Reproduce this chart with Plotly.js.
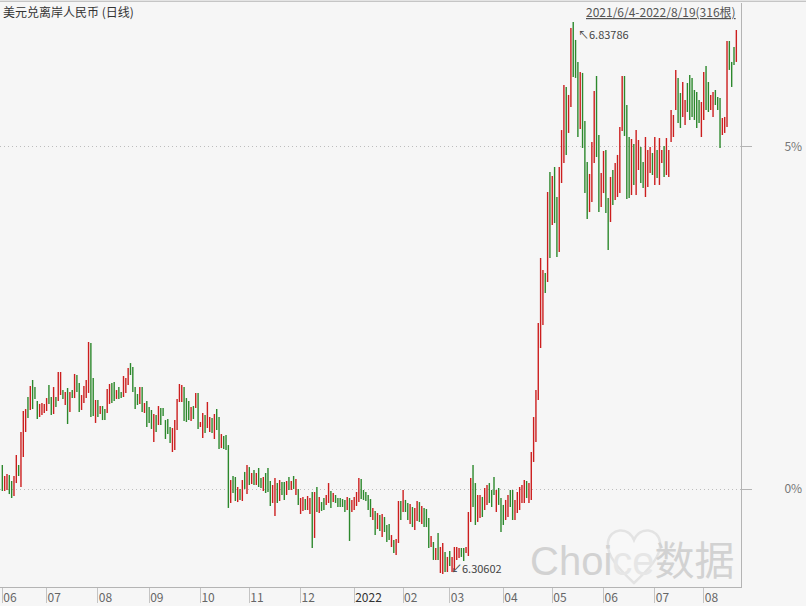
<!DOCTYPE html>
<html>
<head>
<meta charset="utf-8">
<script src="https://cdn.plot.ly/plotly-3.0.1.min.js"></script>
<style>
html,body{margin:0;padding:0;background:#f6f6f6;}
#chart{width:806px;height:606px;}
</style>
</head>
<body>
<div id="chart"></div>
<script>
// USD/CNH daily, 2021/6/4 - 2022/8/19 (316 bars)
const high = [
6.4111,6.4005,6.4024,6.4014,6.3957,6.4005,6.4207,6.4111,6.4429,6.4631,
6.4650,6.4766,6.4872,6.4930,6.4862,6.4727,6.4699,6.4708,6.4699,6.4756,
6.4882,6.4766,6.4862,6.4766,6.5007,6.5007,6.4833,6.4814,6.4853,6.4814,
6.4833,6.4988,6.4978,6.4901,6.4785,6.4872,6.4930,6.5296,6.5286,6.4949,
6.4737,6.4737,6.4679,6.4679,6.4650,6.4843,6.4891,6.4901,6.4911,6.4833,
6.4862,6.4814,6.4968,6.4949,6.5045,6.5093,6.5055,6.4862,6.4795,6.4862,
6.4862,6.4708,6.4727,6.4670,6.4641,6.4602,6.4592,6.4679,6.4660,6.4660,
6.4544,6.4554,6.4477,6.4467,6.4544,6.4747,6.4891,6.4882,6.4862,6.4756,
6.4727,6.4670,6.4679,6.4805,6.4805,6.4525,6.4612,6.4592,6.4718,6.4573,
6.4564,6.4602,6.4650,6.4573,6.4409,6.4390,6.4400,6.4303,6.3966,6.4005,
6.3995,6.3899,6.3880,6.3966,6.4044,6.4111,6.4091,6.4034,6.4063,6.4034,
6.4082,6.3986,6.3995,6.4034,6.4082,6.3957,6.3918,6.3986,6.3937,6.3966,
6.3947,6.3947,6.3957,6.3995,6.3957,6.4005,6.3976,6.3880,6.3793,6.3803,
6.3783,6.3812,6.3793,6.3851,6.3851,6.3899,6.3803,6.3754,6.3793,6.3822,
6.3937,6.3860,6.3841,6.3822,6.3793,6.3793,6.3783,6.3774,6.3803,6.3793,
6.3774,6.3803,6.3851,6.3986,6.3976,6.3870,6.3851,6.3822,6.3783,6.3697,
6.3668,6.3648,6.3629,6.3639,6.3610,6.3533,6.3542,6.3436,6.3388,6.3398,
6.3764,6.3764,6.3870,6.3774,6.3745,6.3735,6.3706,6.3697,6.3764,6.3754,
6.3716,6.3697,6.3687,6.3600,6.3427,6.3369,6.3311,6.3456,6.3321,6.3359,
6.3273,6.3225,6.3282,6.3225,6.3321,6.3321,6.3311,6.3311,6.3311,6.3321,
6.3658,6.3986,6.4111,6.3937,6.3822,6.3822,6.3803,6.3889,6.3918,6.3937,
6.3870,6.3995,6.3870,6.3889,6.3793,6.3726,6.3774,6.3822,6.3870,6.3870,
6.3774,6.3851,6.3899,6.3918,6.3966,6.3957,6.3937,6.4236,6.4573,6.4833,
6.5479,6.6105,6.5990,6.5961,6.6741,6.6934,6.6895,6.6982,6.6693,6.6982,
6.7338,6.7772,6.7753,6.7676,6.8321,6.83786,6.8206,6.7994,6.7897,6.7888,
6.7425,6.7030,6.6915,6.7223,6.7714,6.7859,6.7290,6.6924,6.7136,6.7146,
6.6683,6.6886,6.6953,6.7021,6.7098,6.7367,6.7859,6.7859,6.7579,6.7271,
6.7252,6.7204,6.7338,6.7242,6.7175,6.7030,6.7271,6.7146,6.7175,6.7117,
6.7271,6.7146,6.7261,6.7146,6.7184,6.7261,6.7146,6.7531,6.7483,6.7917,
6.7840,6.7695,6.7801,6.7628,6.7791,6.7868,6.7840,6.7724,6.7705,6.7628,
6.7608,6.7897,6.7955,6.7801,6.7676,6.7705,6.7724,6.7656,6.7647,6.7454,
6.7464,6.8196,6.8196,6.7994,6.8138,6.8302
];
const low = [
6.3860,6.3860,6.3870,6.3831,6.3793,6.3812,6.3937,6.4005,6.3899,6.4188,
6.4429,6.4564,6.4641,6.4650,6.4747,6.4554,6.4573,6.4592,6.4612,6.4631,
6.4699,6.4592,6.4602,6.4670,6.4727,6.4785,6.4747,6.4689,6.4506,6.4622,
6.4756,6.4756,6.4814,6.4622,6.4641,6.4708,6.4756,6.4805,6.4573,6.4583,
6.4516,6.4573,6.4602,6.4544,6.4544,6.4612,6.4699,6.4708,6.4727,6.4747,
6.4747,6.4756,6.4766,6.4805,6.4882,6.4978,6.4814,6.4650,6.4689,6.4699,
6.4622,6.4612,6.4477,6.4516,6.4458,6.4332,6.4429,6.4496,6.4496,6.4583,
6.4361,6.4409,6.4323,6.4236,6.4255,6.4448,6.4718,6.4718,6.4535,6.4525,
6.4544,6.4535,6.4554,6.4660,6.4458,6.4477,6.4371,6.4419,6.4467,6.4429,
6.4419,6.4361,6.4448,6.4265,6.4274,6.4265,6.4255,6.3697,6.3745,6.3841,
6.3764,6.3754,6.3774,6.3764,6.3880,6.3831,6.3918,6.3928,6.3918,6.3918,
6.3899,6.3889,6.3860,6.3841,6.3851,6.3716,6.3745,6.3619,6.3745,6.3764,
6.3822,6.3774,6.3822,6.3870,6.3870,6.3880,6.3822,6.3726,6.3639,6.3668,
6.3677,6.3677,6.3639,6.3311,6.3408,6.3658,6.3648,6.3668,6.3677,6.3726,
6.3745,6.3697,6.3754,6.3745,6.3706,6.3706,6.3706,6.3658,6.3677,6.3379,
6.3658,6.3677,6.3716,6.3754,6.3783,6.3774,6.3764,6.3677,6.3610,6.3581,
6.3436,6.3494,6.3475,6.3417,6.3465,6.3369,6.3388,6.3321,6.3263,6.3244,
6.3359,6.3581,6.3658,6.3658,6.3581,6.3542,6.3513,6.3485,6.3571,6.3562,
6.3542,6.3513,6.3513,6.3311,6.3321,6.3196,6.3196,6.3196,6.3070,6.30602,
6.3080,6.3080,6.3138,6.3080,6.3099,6.3196,6.3215,6.3225,6.3186,6.3263,
6.3234,6.3562,6.3706,6.3533,6.3562,6.3600,6.3610,6.3677,6.3726,6.3745,
6.3706,6.3822,6.3658,6.3726,6.3465,6.3533,6.3581,6.3610,6.3706,6.3581,
6.3581,6.3648,6.3677,6.3745,6.3745,6.3793,6.3745,6.3774,6.4140,6.4332,
6.4737,6.5238,6.5460,6.5768,6.5874,6.6105,6.6423,6.6442,6.6115,6.6163,
6.6828,6.7021,6.7098,6.7310,6.7560,6.7849,6.7840,6.7271,6.7348,6.7165,
6.6731,6.6481,6.6548,6.6645,6.7021,6.7078,6.6548,6.6597,6.6731,6.6539,
6.6182,6.6452,6.6616,6.6664,6.6693,6.6731,6.7329,6.7281,6.6674,6.6683,
6.6712,6.6809,6.6712,6.6953,6.6828,6.6780,6.6693,6.6789,6.6924,6.6905,
6.6809,6.6876,6.6809,6.7021,6.6886,6.6905,6.6886,6.7223,6.7271,6.7531,
6.7406,6.7358,6.7464,6.7387,6.7512,6.7435,6.7464,6.7435,6.7358,6.7406,
6.7271,6.7435,6.7531,6.7512,6.7531,6.7464,6.7579,6.7531,6.7165,6.7290,
6.7310,6.7367,6.7917,6.7753,6.7965,6.7994
];
// R = close above open (red), G = close below open (green)
const direction =
  "GRRGGRRGRR" + "RGRGGGRRRR" + "GGRGRRGRGR" + "GRGGRRRRGG" + "RGRGGRRGGR" +
  "GGRRRGGGGR" + "GRGGGRGRGG" + "GGGRRRRRGG" + "GRGRGRRGRR" + "GRGGRGGGRG" +
  "GRGRGRGRGR" + "GGRGGGRRGR" + "GGRGRGRGRR" + "GRRGRGRGGR" + "RGRGGGGGRG" +
  "RRRRGGGGGR" + "GRGRGGGRGR" + "RGRGGRGRRG" + "RGGGRGRGRR" + "GRGRRRRGGR" +
  "RRGGRRGRRG" + "GGRGGGRRGG" + "RRRRRGRRRR" + "RRRGRGRGGR" + "RRGRRGGGRG" +
  "GGRRRGGRRG" + "GRGRRRRGGG" + "RGRRGGRRRG" + "RGRRGRRRRR" + "GGRRGGGGGG" +
  "RRGGRRGGGR" + "RRGGGR";

const monthTickIndex = [0,19,41,63,85,106,128,151,172,192,215,236,258,280,301];
const monthTickText = ['06','07','08','09','10','11','12','<span style="color:#333">2022</span>','02','03','04','05','06','07','08'];
const yTickVals = [6.38796, 6.71747];
const yTickText = ['0%','5%'];
const maxIndex = 245, maxPrice = 6.83786;
const minIndex = 189, minPrice = 6.30602;
const titleText = '美元兑离岸人民币 (日线)';
const rangeText = '2021/6/4-2022/8/19(316根)';

const UP = '#cc1e1e', DOWN = '#2c882c';
const xs = high.map((_, i) => i);
const trace = {
  type: 'bar',
  x: xs,
  base: low,
  y: high.map((h, i) => h - low[i]),
  width: 0.6,
  marker: { color: xs.map(i => direction[i] === 'R' ? UP : DOWN), line: { width: 0 } },
  hoverinfo: 'skip'
};

const FONT = '"Noto Sans CJK SC", "Open Sans", sans-serif';
const heart = 'M 0.8556,0.0069 C 0.8367,0.0291 0.8178,0.0531 0.8205,0.0771 ' +
              'C 0.8232,0.1010 0.8475,0.1045 0.8556,0.0805 ' +
              'C 0.8637,0.1045 0.8880,0.1010 0.8907,0.0771 ' +
              'C 0.8934,0.0531 0.8745,0.0291 0.8556,0.0069 Z';
const layout = {
  width: 806, height: 606,
  margin: { l: 0, r: 65, t: 3, b: 19, pad: 0 },
  paper_bgcolor: '#f6f6f6', plot_bgcolor: '#f6f6f6',
  showlegend: false,
  font: { family: FONT, size: 12, color: '#555' },
  xaxis: {
    range: [-1, 317], tickmode: 'array', tickvals: monthTickIndex, ticktext: monthTickText,
    showgrid: false, zeroline: false, showline: true, linecolor: '#b4b4b4', linewidth: 1,
    ticks: 'outside', ticklen: 15, tickcolor: '#c4c4c4', tickwidth: 1,
    ticklabelposition: 'outside right', ticklabelstandoff: 0,
    tickfont: { family: FONT, size: 12, color: '#666' }, fixedrange: true
  },
  yaxis: {
    side: 'right', range: [6.29354, 6.8562], tickmode: 'array', tickvals: yTickVals, ticktext: yTickText,
    showgrid: true, gridcolor: '#bdbdbd', griddash: '1px,3px', gridwidth: 1,
    zeroline: false, showline: true, linecolor: '#b4b4b4', linewidth: 1,
    ticks: 'outside', ticklen: 10, tickcolor: '#b4b4b4',
    ticklabelstandoff: 30,
    tickfont: { family: FONT, size: 12, color: '#777' }, fixedrange: true
  },
  shapes: [
    { type: 'line', xref: 'paper', yref: 'paper', x0: 0, x1: 806/741, y0: 1.003, y1: 1.003,
      line: { color: '#b4b4b4', width: 1 } },
    { type: 'path', xref: 'paper', yref: 'paper', path: heart,
      line: { color: '#e3e3e3', width: 2.5 }, fillcolor: 'rgba(255,255,255,0.25)' }
  ],
  annotations: [
    { xref: 'paper', yref: 'paper', x: 0.001, y: 0.986, xanchor: 'left', yanchor: 'middle',
      text: titleText, showarrow: false, font: { family: FONT, size: 12, color: '#333' } },
    { xref: 'paper', yref: 'paper', x: 0.996, y: 0.986, xanchor: 'right', yanchor: 'middle',
      text: '<u>' + rangeText + '</u>', showarrow: false, font: { family: FONT, size: 12, color: '#555' } },
    { x: maxIndex, y: maxPrice, xanchor: 'left', yanchor: 'top', xshift: 3, yshift: -2,
      text: '↖' + maxPrice.toFixed(5), showarrow: false, font: { family: FONT, size: 11, color: '#444' } },
    { x: minIndex, y: minPrice, xanchor: 'left', yanchor: 'bottom', xshift: 6, yshift: -4,
      text: '↙' + minPrice.toFixed(5), showarrow: false, font: { family: FONT, size: 11, color: '#444' } },
    { xref: 'paper', yref: 'paper', x: 528/741, y: 0.004, xanchor: 'left', yanchor: 'bottom',
      text: 'Choi<span style="color:#e6e6e6">ce</span>数据', showarrow: false,
      font: { family: '"Liberation Sans", "Noto Sans CJK SC", sans-serif', size: 40, color: '#d2d2d2' } }
  ]
};

Plotly.newPlot('chart', [trace], layout, { displayModeBar: false, staticPlot: true });
</script>
</body>
</html>
